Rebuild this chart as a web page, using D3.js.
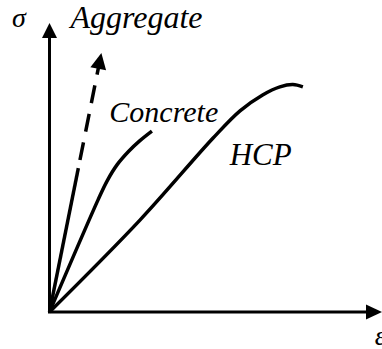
<!DOCTYPE html>
<html>
<head>
<meta charset="utf-8">
<script src="https://cdn.jsdelivr.net/npm/d3@7"></script>
<style>
  body { margin: 0; background: #fff; }
  svg { display: block; }
</style>
</head>
<body>
<div id="chart"></div>
<script>
// strain / stress in relative units (0..100)
var concrete_strain = [0, 14.6, 17.3, 20.3, 23.9, 27.2, 30.8];
var concrete_stress = [0, 38.8, 45.3, 50.9, 55.7, 59.3, 62.6];
var hcp_strain = [0, 27.2, 49.2, 57.3, 64.1, 69.3, 73.2, 76.2];
var hcp_stress = [0, 31.8, 60.2, 69.6, 75.1, 77.9, 78.7, 77.9];
var aggregate_strain = [0, 15.6];
var aggregate_stress = [0, 89.6];
var aggregate_solid_to = 49.8;   // stress where the dashed part begins
var labels = [
    {text: "σ", x: -11.3, y: 98.5, size: 28},
    {text: "Aggregate", x: 6.3, y: 98.2, size: 32},
    {text: "Concrete", x: 18.0, y: 65.7, size: 30},
    {text: "HCP", x: 54.2, y: 50.9, size: 31},
    {text: "ε", x: 97.8, y: -11.5, size: 28}
];

var width = 382, height = 349;
var x = d3.scaleLinear().domain([0, 100]).range([49.5, 382]);
var y = d3.scaleLinear().domain([0, 100]).range([312, 23]);

var svg = d3.select("#chart").append("svg")
    .attr("width", width)
    .attr("height", height);

function pts(xs, ys) {
    return xs.map(function(v, i) { return [v, ys[i]]; });
}

var line = d3.line()
    .x(function(d) { return x(d[0]); })
    .y(function(d) { return y(d[1]); })
    .curve(d3.curveCatmullRom.alpha(0.5));

// axes
svg.append("line")
    .attr("x1", x(0)).attr("y1", y(0))
    .attr("x2", x(0)).attr("y2", y(100) + 12)
    .attr("stroke", "#000").attr("stroke-width", 3);
svg.append("line")
    .attr("x1", x(0) - 1.5).attr("y1", y(0))
    .attr("x2", x(100) - 12).attr("y2", y(0))
    .attr("stroke", "#000").attr("stroke-width", 3);

function arrow_head(tip, dir, len, half) {
    // dir is a unit vector pointing to the tip
    var bx = tip[0] - dir[0] * len, by = tip[1] - dir[1] * len;
    var px = -dir[1] * half, py = dir[0] * half;
    svg.append("path")
        .attr("d", "M" + tip[0] + "," + tip[1] +
                   "L" + (bx + px) + "," + (by + py) +
                   "L" + (bx - px) + "," + (by - py) + "Z")
        .attr("fill", "#000");
}
arrow_head([x(0), y(100)], [0, -1], 15, 7.5);
arrow_head([x(100), y(0)], [1, 0], 16, 7.5);

// aggregate: solid from the origin, dashed above
var ax0 = x(aggregate_strain[0]), ay0 = y(aggregate_stress[0]);
var ax1 = x(aggregate_strain[1]), ay1 = y(aggregate_stress[1]);
var alen = Math.hypot(ax1 - ax0, ay1 - ay0);
var adir = [(ax1 - ax0) / alen, (ay1 - ay0) / alen];
var f_solid = aggregate_solid_to / aggregate_stress[1];
var f_dash = (aggregate_solid_to + 2.8) / aggregate_stress[1];
var head_len = 16;

svg.append("line")
    .attr("x1", ax0).attr("y1", ay0)
    .attr("x2", ax0 + (ax1 - ax0) * f_solid).attr("y2", ay0 + (ay1 - ay0) * f_solid)
    .attr("stroke", "#000").attr("stroke-width", 3.5);
svg.append("line")
    .attr("x1", ax0 + (ax1 - ax0) * f_dash).attr("y1", ay0 + (ay1 - ay0) * f_dash)
    .attr("x2", ax1 - adir[0] * (head_len - 2)).attr("y2", ay1 - adir[1] * (head_len - 2))
    .attr("stroke", "#000").attr("stroke-width", 3.5)
    .attr("stroke-dasharray", "18,11");
arrow_head([ax1, ay1], adir, head_len, 8);

// curves
svg.append("path")
    .datum(pts(concrete_strain, concrete_stress))
    .attr("d", line)
    .attr("fill", "none").attr("stroke", "#000")
    .attr("stroke-width", 3.5);
svg.append("path")
    .datum(pts(hcp_strain, hcp_stress))
    .attr("d", line)
    .attr("fill", "none").attr("stroke", "#000")
    .attr("stroke-width", 3.5);

svg.selectAll("text.lbl")
    .data(labels)
    .enter().append("text")
      .attr("class", "lbl")
      .attr("x", function(d) { return x(d.x); })
      .attr("y", function(d) { return y(d.y); })
      .style("font-family", "Liberation Serif")
      .style("font-style", "italic")
      .style("font-size", function(d) { return d.size + "px"; })
      .attr("fill", "#000")
      .text(function(d) { return d.text; });
</script>
</body>
</html>
